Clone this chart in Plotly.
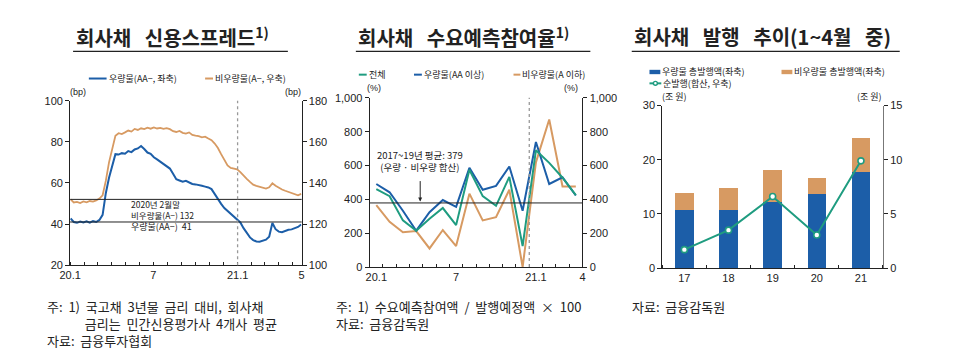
import plotly.graph_objects as go
import pandas as pd

W, H = 953, 363

# ---------------- Panel 1: 회사채 신용스프레드 (weekly readings) ----------------
spread_dates = pd.date_range("2020-01-02", periods=73, freq="7D")
spread_aa = [42.7, 41.0, 40.6, 41.2, 40.8, 41.3, 40.7, 41.4, 41.0, 42.0,
             44.5, 55.0, 62.5, 69.0, 74.0, 73.8, 74.5, 74.2, 75.5, 75.0,
             76.3, 76.8, 78.0, 76.5, 74.8, 74.2, 72.5, 71.5, 70.3, 69.5,
             68.2, 67.0, 64.5, 61.8, 61.2, 60.6, 61.0, 60.4, 59.5, 59.3,
             58.8, 58.6, 58.2, 57.8, 57.0, 54.5, 51.8, 49.8, 47.8, 46.3,
             44.8, 43.5, 42.2, 40.8, 38.0, 35.8, 33.5, 32.2, 31.5, 31.4,
             31.9, 32.4, 33.8, 40.5, 37.5, 36.3, 36.0, 36.8, 37.2, 37.4,
             37.9, 38.6, 39.8]
spread_a = [132.0, 130.5, 130.8, 130.2, 131.0, 130.6, 131.2, 130.9, 131.5, 132.4,
            134.0, 141.0, 150.0, 156.5, 163.0, 164.2, 163.8, 164.6, 165.5, 165.0,
            166.3, 165.8, 166.6, 166.2, 166.9, 166.4, 167.0, 166.5, 166.8, 166.3,
            166.7, 166.2, 165.2, 164.8, 165.3, 164.4, 164.0, 164.6, 163.4, 163.0,
            162.8, 162.2, 162.5, 161.6, 160.8, 159.2, 157.0, 154.0, 151.0, 148.5,
            147.3, 147.0, 146.6, 145.3, 143.5, 142.0, 140.5, 139.2, 138.6, 138.2,
            137.8, 137.3, 137.9, 139.8, 138.6, 137.6, 136.8, 136.2, 135.6, 135.0,
            134.4, 134.0, 134.7]
spread_ref_aa = 41
spread_ref_a = 132
spread_tickvals = ["2020-01-01", "2020-07-01", "2021-01-01", "2021-05-21"]
spread_ticktext = ["20.1", "7", "21.1", "5"]
spread_months = pd.date_range("2020-01-01", "2021-05-01", freq="MS")

# ---------------- Panel 2: 회사채 수요예측참여율 (monthly) ----------------
demand_months = ["20.1", "20.2", "20.3", "20.4", "20.5", "20.6", "20.7", "20.8",
                 "20.9", "20.10", "20.11", "20.12", "21.1", "21.2", "21.3", "21.4"]
demand_total = [461, 419, 276, 215, 286, 349, 248, 575, 419, 362, 533, 124, 690, 616, 528, 425]
demand_aa = [491, 442, 333, 215, 324, 396, 356, 587, 457, 480, 594, 333, 739, 491, 530, 423]
demand_a = [366, 267, 206, 213, 110, 219, 124, 434, 276, 295, 457, 0, 619, 872, 476, 476]
demand_avg = 379
demand_tickpos = [0, 6, 12, 15.5]
demand_ticktext = ["20.1", "7", "21.1", "4"]

# ---------------- Panel 3: 회사채 발행 추이 ----------------
issue_years = ["17", "18", "19", "20", "21"]
issue_aa = [10.7, 10.7, 12.2, 13.75, 17.75]
issue_a = [3.2, 4.0, 5.9, 2.95, 6.25]
issue_net = [1.7, 3.5, 6.6, 3.05, 9.9]

BLUE = "#1c5ea8"
ORANGE = "#d79a62"
TEAL = "#1f9c80"
KFONT = "Noto Sans CJK KR"
NFONT = "Liberation Sans"


def px(x):
    return x / W


def py(y):
    return 1 - y / H


fig = go.Figure()

# Panel 1 traces
fig.add_trace(go.Scatter(x=spread_dates, y=spread_aa, mode="lines",
                         line=dict(color=BLUE, width=2), xaxis="x", yaxis="y",
                         showlegend=False))
fig.add_trace(go.Scatter(x=spread_dates, y=spread_a, mode="lines",
                         line=dict(color=ORANGE, width=1.8), xaxis="x", yaxis="y2",
                         showlegend=False))

# Panel 2 traces
xi = list(range(len(demand_months)))
fig.add_trace(go.Scatter(x=xi, y=demand_a, mode="lines",
                         line=dict(color=ORANGE, width=2), xaxis="x2", yaxis="y3",
                         showlegend=False))
fig.add_trace(go.Scatter(x=xi, y=demand_aa, mode="lines",
                         line=dict(color=BLUE, width=2), xaxis="x2", yaxis="y3",
                         showlegend=False))
fig.add_trace(go.Scatter(x=xi, y=demand_total, mode="lines",
                         line=dict(color=TEAL, width=2), xaxis="x2", yaxis="y3",
                         showlegend=False))
fig.add_trace(go.Scatter(x=[None], y=[None], xaxis="x2", yaxis="y4", showlegend=False))

# Panel 3 traces
bi = list(range(len(issue_years)))
fig.add_trace(go.Bar(x=bi, y=issue_aa, marker=dict(color=BLUE, line=dict(width=0)),
                     width=0.42, xaxis="x3", yaxis="y5", showlegend=False))
fig.add_trace(go.Bar(x=bi, y=issue_a, marker=dict(color=ORANGE, line=dict(width=0)),
                     width=0.42, xaxis="x3", yaxis="y5", showlegend=False))
fig.add_trace(go.Scatter(x=bi, y=issue_net, mode="lines+markers",
                         line=dict(color=TEAL, width=2),
                         marker=dict(symbol="circle", size=6, color="white",
                                     line=dict(color=TEAL, width=1.6)),
                         xaxis="x3", yaxis="y6", showlegend=False))

tickfont = dict(family=NFONT, size=11, color="#222")
axcommon = dict(showgrid=False, zeroline=False, showline=True, linecolor="#222",
                linewidth=1, tickfont=tickfont)

d1x = [px(60), px(295)]
d1y = [py(268), py(98)]
d2x = [px(364), px(580)]
d2y = [py(270), py(95)]
d3x = [px(661), px(885)]
d3y = [py(271), py(103)]

ytick = dict(ticks="outside", ticklen=4, tickcolor="#222")

fig.update_layout(
    width=W, height=H, margin=dict(l=0, r=0, t=0, b=0, pad=0),
    paper_bgcolor="white", plot_bgcolor="white", barmode="stack",
    xaxis=dict(domain=d1x, anchor="y", type="date",
               range=["2020-01-01", "2021-05-21"],
               tickmode="array", tickvals=spread_tickvals, ticktext=spread_ticktext,
               ticks="", ticklen=0,
               minor=dict(tickmode="array", tickvals=list(spread_months),
                          ticks="inside", ticklen=3, tickcolor="#222", showgrid=False),
               **axcommon),
    yaxis=dict(domain=d1y, anchor="x", range=[20, 100], dtick=20, **ytick, **axcommon),
    yaxis2=dict(domain=d1y, anchor="x", overlaying="y", side="right",
                range=[100, 180], dtick=20, **ytick, **axcommon),
    xaxis2=dict(domain=d2x, anchor="y3", range=[-0.5, 15.5],
                tickmode="array", tickvals=demand_tickpos, ticktext=demand_ticktext,
                ticks="", ticklen=0,
                minor=dict(tickmode="array", tickvals=[i - 0.5 for i in range(17)],
                           ticks="inside", ticklen=3, tickcolor="#222", showgrid=False),
                **axcommon),
    yaxis3=dict(domain=d2y, anchor="x2", range=[0, 1000], dtick=200, tickformat=",",
                **ytick, **axcommon),
    yaxis4=dict(domain=d2y, anchor="x2", overlaying="y3", side="right",
                range=[0, 1000], dtick=200, tickformat=",", **ytick, **axcommon),
    xaxis3=dict(domain=d3x, anchor="y5", range=[-0.5, 4.5],
                tickmode="array", tickvals=bi, ticktext=issue_years,
                ticks="", ticklen=0,
                minor=dict(tickmode="array", tickvals=[i - 0.5 for i in range(6)],
                           ticks="inside", ticklen=3, tickcolor="#222", showgrid=False),
                **axcommon),
    yaxis5=dict(domain=d3y, anchor="x3", range=[0, 30], dtick=10, **ytick, **axcommon),
    yaxis6=dict(domain=d3y, anchor="x3", overlaying="y5", side="right",
                range=[0, 15], dtick=5, **ytick,
                **{**axcommon, "linecolor": "#777"}),
)

shapes = []
annotations = []


def text(x, y, s, size=10, xanchor="left", family=KFONT, color="#222", weight="normal",
         yanchor="middle"):
    annotations.append(dict(x=px(x), y=py(y), xref="paper", yref="paper", text=s,
                            showarrow=False, xanchor=xanchor, yanchor=yanchor,
                            align="left",
                            font=dict(family=family, size=size, color=color, weight=weight)))


def hline(x0, x1, y, color="#222", width=1.2):
    shapes.append(dict(type="line", xref="paper", yref="paper", x0=px(x0), x1=px(x1),
                       y0=py(y), y1=py(y), line=dict(color=color, width=width)))


SP = "&nbsp;" * 3
# Titles with underline
text(64, 32, "회사채" + SP + "신용스프레드<sup>1)</sup>", size=20, weight="bold")
hline(63, 281, 47)
text(350, 32, "회사채" + SP + "수요예측참여율<sup>1)</sup>", size=20, weight="bold")
hline(350, 588, 47)
text(630, 32, "회사채" + SP + "발행" + SP + "추이(1~4월" + SP + "중)", size=20, weight="bold")
hline(630, 902, 47)

# Legends panel 1
hline(79, 97, 75, BLUE, 2)
text(97, 75, "우량물(AA−, 좌축)", size=9)
hline(197, 205, 75, ORANGE, 2)
text(205, 75, "비우량물(A−, 우축)", size=9)

# Legends panel 2
for x0, x1, c, s in [(353, 361, TEAL, "전체"), (409, 417, BLUE, "우량물(AA 이상)"),
                     (510, 517, ORANGE, "비우량물(A 이하)")]:
    hline(x0, x1, 71, c, 2)
    text(x1, 71, s, size=9)

# Legends panel 3
shapes.append(dict(type="rect", xref="paper", yref="paper", x0=px(648), x1=px(659),
                   y0=py(70.5), y1=py(66), fillcolor=BLUE, line=dict(width=0)))
text(659, 68, "우량물 총발행액(좌축)", size=9)
shapes.append(dict(type="rect", xref="paper", yref="paper", x0=px(782), x1=px(793),
                   y0=py(70.5), y1=py(66), fillcolor=ORANGE, line=dict(width=0)))
text(793, 68, "비우량물 총발행액(좌축)", size=9)
hline(648, 660, 80, TEAL, 2)
shapes.append(dict(type="circle", xref="paper", yref="paper", x0=px(652), x1=px(656),
                   y0=py(82), y1=py(78), fillcolor="white", line=dict(color=TEAL, width=1.4)))
text(660, 80, "순발행(합산, 우축)", size=9)

# Axis unit labels
text(68, 89, "(bp)", size=9, xanchor="center", family=NFONT)
text(286, 89, "(bp)", size=9, xanchor="center", family=NFONT)
text(368, 85, "(%)", size=9, xanchor="center", family=NFONT)
text(568, 85, "(%)", size=9, xanchor="center", family=NFONT)
text(673, 94, "(조 원)", size=9, xanchor="center")
text(871, 94, "(조 원)", size=9, xanchor="center")

# Panel 1 reference lines & notes
shapes.append(dict(type="line", xref="x domain", yref="y2", x0=0, x1=1,
                   y0=spread_ref_a, y1=spread_ref_a, line=dict(color="#222", width=1)))
shapes.append(dict(type="line", xref="x domain", yref="y", x0=0, x1=1,
                   y0=spread_ref_aa, y1=spread_ref_aa, line=dict(color="#222", width=1)))
shapes.append(dict(type="line", xref="x", yref="y domain", x0="2021-01-01", x1="2021-01-01",
                   y0=0, y1=1, line=dict(color="#999", width=1.3, dash="dot")))
text(120, 210, "2020년 2월말<br>비우량물(A−) " + str(spread_ref_a), size=8.5)
text(120, 228, "우량물(AA−)  " + str(spread_ref_aa), size=9)

# Panel 2 reference line & notes
shapes.append(dict(type="line", xref="x2 domain", yref="y3", x0=0, x1=1,
                   y0=demand_avg, y1=demand_avg, line=dict(color="#222", width=1)))
shapes.append(dict(type="line", xref="x2", yref="y3 domain", x0=11.5, x1=11.5,
                   y0=0, y1=1, line=dict(color="#999", width=1.3, dash="dot")))
annotations.append(dict(x=px(415), y=py(160), xref="paper", yref="paper",
                        text="2017~19년 평균: " + str(demand_avg) + "<br>(우량 · 비우량 합산)",
                        showarrow=False, xanchor="center", yanchor="middle", align="center",
                        font=dict(family=KFONT, size=9.5, color="#222")))
annotations.append(dict(x=3.3, y=demand_avg + 8, xref="x2", yref="y3", ax=0, ay=-22,
                        axref="pixel", ayref="pixel", showarrow=True, arrowhead=2,
                        arrowsize=0.8, arrowwidth=1, arrowcolor="#222", text=""))

# Footnotes (multi-line blocks)
S2 = "&nbsp;&nbsp;"
IND = "&nbsp;" * 13
text(35, 299, "주:" + S2 + "1)" + S2 + "국고채" + S2 + "3년물" + S2 + "금리" + S2 + "대비," + S2 + "회사채"
     + "<br>" + IND + "금리는" + S2 + "민간신용평가사" + S2 + "4개사" + S2 + "평균"
     + "<br>자료:" + S2 + "금융투자협회", size=13, yanchor="top")
text(328, 299, "주:" + S2 + "1)" + S2 + "수요예측참여액" + S2 + "/" + S2 + "발행예정액" + S2 + "×" + S2 + "100"
     + "<br>자료:" + S2 + "금융감독원", size=13, yanchor="top")
text(628, 299, "자료:" + S2 + "금융감독원", size=13, yanchor="top")

fig.update_layout(shapes=shapes, annotations=annotations)
fig.write_html("out.html", config={"displayModeBar": False},
               post_script="document.body.style.margin='0';document.body.style.overflow='hidden';")
